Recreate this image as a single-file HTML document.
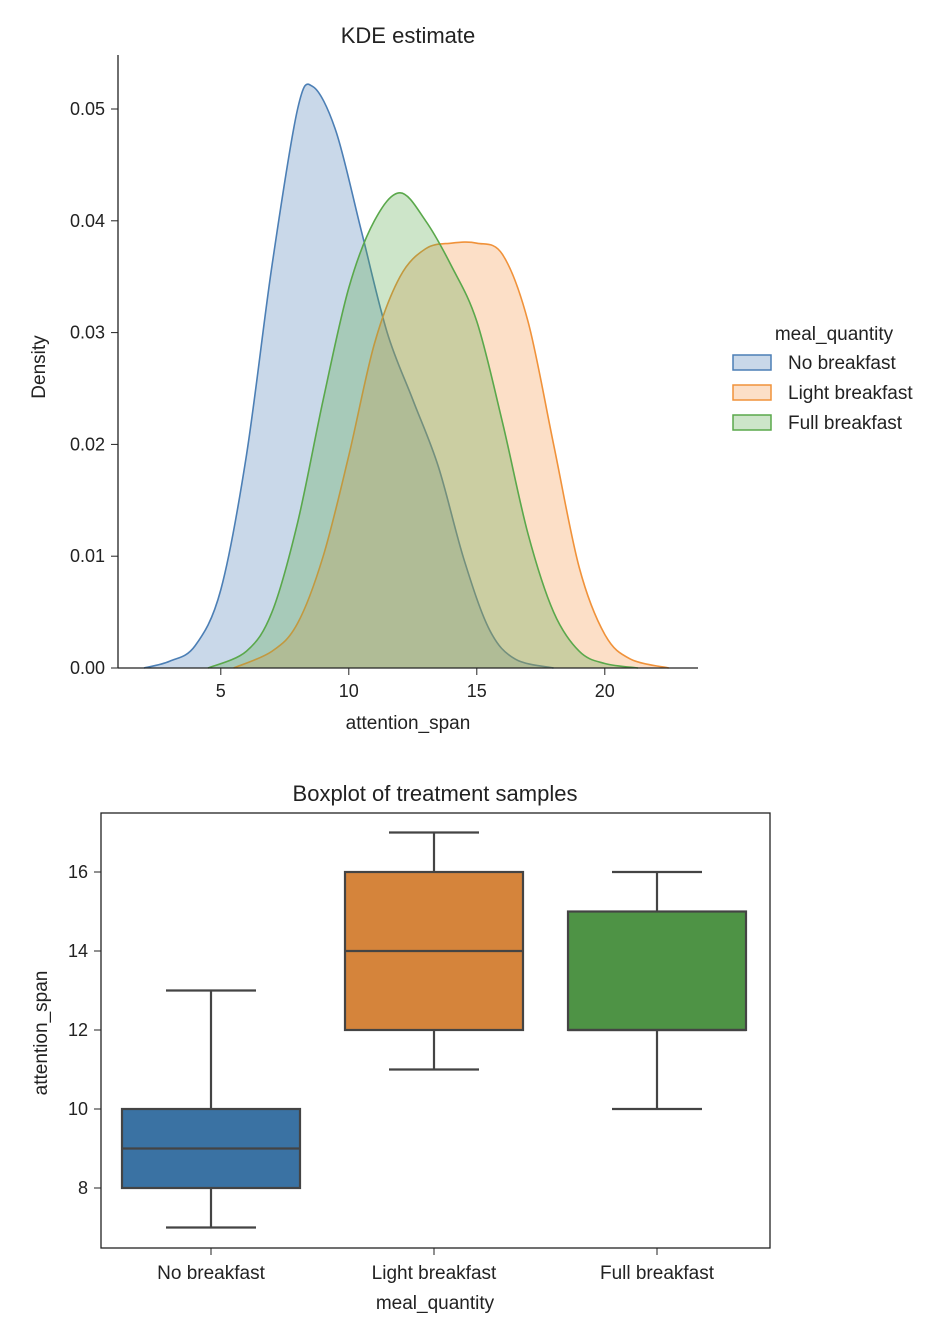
<!DOCTYPE html>
<html><head><meta charset="utf-8"><style>
html,body{margin:0;padding:0;background:#fff;width:934px;height:1328px;overflow:hidden}
svg text{font-family:"Liberation Sans","DejaVu Sans",sans-serif;fill:#222}
</style></head><body>
<svg id="chart" width="934" height="1328" viewBox="0 0 934 1328">
<g id="kde"></g>
<g id="box"></g>
</svg>
<script>
// ---- KDE data ----
const kdeGroups = ["No breakfast","Light breakfast","Full breakfast"];
const blueX = [2,3,4,5,6,7,8,8.6,9.5,10.5,11.5,12.5,13.5,14.5,15.5,16.5,18];
const blueY = [0,0.0006,0.002,0.007,0.019,0.036,0.050,0.052,0.048,0.039,0.030,0.024,0.018,0.0097,0.0034,0.0008,0];
const orangeX = [5.5,7,8,9,10,11,12,13,14,15,16,17,18,19,20,21,22.5];
const orangeY = [0,0.0015,0.004,0.010,0.019,0.029,0.035,0.0375,0.038,0.038,0.0370,0.031,0.020,0.009,0.003,0.0008,0];
const greenX = [4.5,6,7,8,9,10,11,12,13,14,15,16,17,18,19,20,21.3];
const greenY = [0,0.0015,0.005,0.013,0.024,0.034,0.040,0.0425,0.040,0.036,0.031,0.022,0.012,0.005,0.0015,0.0004,0];
const kdeXTicks = [5,10,15,20];
const kdeYTicks = [0,0.01,0.02,0.03,0.04,0.05];
// ---- Boxplot data ----
const boxCats = ["No breakfast","Light breakfast","Full breakfast"];
const boxMin = [7,11,10];
const boxQ1 = [8,12,12];
const boxMed = [9,14,12];
const boxQ3 = [10,16,15];
const boxMax = [13,17,16];
const boxYTicks = [8,10,12,14,16];

const NS="http://www.w3.org/2000/svg";
function mk(p,tag,attrs,txt){const e=document.createElementNS(NS,tag);for(const k in attrs)e.setAttribute(k,attrs[k]);if(txt!=null)e.textContent=txt;p.appendChild(e);return e;}

const kx=v=>92.8+25.6*v, ky=v=>668-v*11180;
const K=document.getElementById('kde');
const kt=mk(K,'text',{x:408,y:43,'text-anchor':'middle','font-size':22},'KDE estimate');


const cols=[["#4c7fb5","rgba(76,127,181,0.3)"],["#f0923a","rgba(245,150,70,0.3)"],["#5aa84b","rgba(90,168,75,0.3)"]];
const series=[[blueX,blueY],[orangeX,orangeY],[greenX,greenY]];
function smooth(pts){let d=`M${pts[0][0]},${pts[0][1]}`;for(let i=0;i<pts.length-1;i++){const p0=pts[Math.max(0,i-1)],p1=pts[i],p2=pts[i+1],p3=pts[Math.min(pts.length-1,i+2)];d+=` C${p1[0]+(p2[0]-p0[0])/6},${p1[1]+(p2[1]-p0[1])/6} ${p2[0]-(p3[0]-p1[0])/6},${p2[1]-(p3[1]-p1[1])/6} ${p2[0]},${p2[1]}`;}return d;}
series.forEach((s,i)=>{
  const pts=s[0].map((x,j)=>[kx(x),ky(s[1][j])]);
  const d=smooth(pts);
  const f=mk(K,'path',{d:d+' Z',fill:cols[i][1],stroke:'none'});
  
  
  const l=mk(K,'path',{d:d,fill:'none',stroke:cols[i][0],'stroke-width':1.6});
  
  
});
mk(K,'line',{x1:118,y1:55,x2:118,y2:668,stroke:'#222','stroke-width':1.3});
mk(K,'line',{x1:118,y1:668,x2:698,y2:668,stroke:'#222','stroke-width':1.3});
kdeXTicks.forEach(v=>{mk(K,'line',{x1:kx(v),y1:668,x2:kx(v),y2:675,stroke:'#222'});
  const t=mk(K,'text',{x:kx(v),y:697,'text-anchor':'middle','font-size':18},String(v));
  
  });
kdeYTicks.forEach(v=>{mk(K,'line',{x1:111,y1:ky(v),x2:118,y2:ky(v),stroke:'#222'});
  const t=mk(K,'text',{x:105,y:ky(v)+6,'text-anchor':'end','font-size':18},v.toFixed(2));
  
  });
const kxl=mk(K,'text',{x:408,y:729,'text-anchor':'middle','font-size':19},'attention_span');


const kyl=mk(K,'text',{x:45,y:367,'text-anchor':'middle','font-size':19,transform:'rotate(-90 45 367)'},'Density');


const lt=mk(K,'text',{x:834,y:340,'text-anchor':'middle','font-size':19},'meal_quantity');


kdeGroups.forEach((g,i)=>{const y=363+i*30;
  const r=mk(K,'rect',{x:733,y:y-8,width:38,height:15,fill:cols[i][1],stroke:cols[i][0],'stroke-width':1.5});
  
  
  const t=mk(K,'text',{x:788,y:y+6,'font-size':19},g);
  
  });

const B=document.getElementById('box');
const by=v=>1188-(v-8)*39.5;
const bx=i=>211+i*223;
const bcols=["#3a72a3","#d5843b","#4e9345"];
const bt=mk(B,'text',{x:435,y:801,'text-anchor':'middle','font-size':22},'Boxplot of treatment samples');


boxCats.forEach((c,i)=>{const x=bx(i),g='#444';
  mk(B,'line',{x1:x,y1:by(boxMax[i]),x2:x,y2:by(boxQ3[i]),stroke:g,'stroke-width':2.2});
  mk(B,'line',{x1:x,y1:by(boxQ1[i]),x2:x,y2:by(boxMin[i]),stroke:g,'stroke-width':2.2});
  mk(B,'line',{x1:x-45,y1:by(boxMax[i]),x2:x+45,y2:by(boxMax[i]),stroke:g,'stroke-width':2.2});
  mk(B,'line',{x1:x-45,y1:by(boxMin[i]),x2:x+45,y2:by(boxMin[i]),stroke:g,'stroke-width':2.2});
  const r=mk(B,'rect',{x:x-89,y:by(boxQ3[i]),width:178,height:by(boxQ1[i])-by(boxQ3[i]),fill:bcols[i],stroke:g,'stroke-width':2.2});
  
  
  mk(B,'line',{x1:x-89,y1:by(boxMed[i]),x2:x+89,y2:by(boxMed[i]),stroke:g,'stroke-width':2.2});
  mk(B,'line',{x1:x,y1:1248,x2:x,y2:1255,stroke:'#222'});
  const t=mk(B,'text',{x:x,y:1279,'text-anchor':'middle','font-size':19},c);
  
  
});
mk(B,'rect',{x:101,y:813,width:669,height:435,fill:'none',stroke:'#222','stroke-width':1.3});
boxYTicks.forEach(v=>{mk(B,'line',{x1:94,y1:by(v),x2:101,y2:by(v),stroke:'#222'});
  const t=mk(B,'text',{x:88,y:by(v)+6,'text-anchor':'end','font-size':18},String(v));
  
  });
const bxl=mk(B,'text',{x:435,y:1309,'text-anchor':'middle','font-size':19},'meal_quantity');


const byl=mk(B,'text',{x:47,y:1033,'text-anchor':'middle','font-size':19,transform:'rotate(-90 47 1033)'},'attention_span');


</script>
</body></html>
